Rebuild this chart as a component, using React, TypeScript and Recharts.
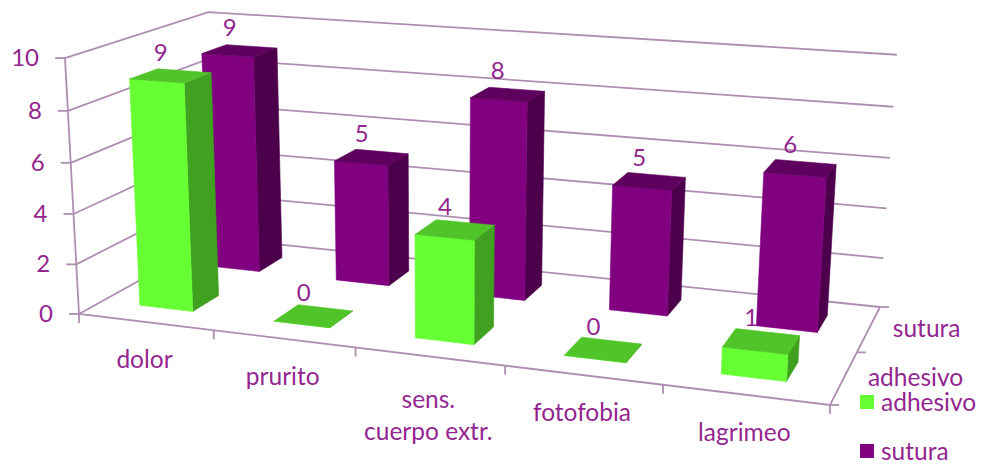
import React from 'react'
import { BarChart, Bar, XAxis, YAxis, CartesianGrid, Legend } from 'recharts'

const categories = ['dolor', 'prurito', 'sens.\ncuerpo extr.', 'fotofobia', 'lagrimeo']
const adhesivo = [9, 0, 4, 0, 1]
const sutura = [9, 5, 8, 5, 6]
const valueTicks = [0, 2, 4, 6, 8, 10]
const seriesNames = ['adhesivo', 'sutura']

const data = categories.map((name, i) => ({ name, adhesivo: adhesivo[i], sutura: sutura[i] }))

const WIDTH = 982
const HEIGHT = 464
// flat plot rectangle the scales work in, projected onto the 3D box afterwards
const PLOT = { left: 100, top: 50, width: 700, height: 300 }
const BAR_SIZE = 56

const TEXT = '#93278F'
const LINE = '#AE8FB2'
const FONT = 'Lato, sans-serif'
const FONT_SIZE = 24.5
const DIGIT_SIZE = 24

const GREEN = { front: '#66FF33', side: '#40A020', top: '#50C428' }
const PURPLE = { front: '#800080', side: '#4C004C', top: '#5F005F' }

// floor corners: front-left, front-right, back-right, back-left
const FLOOR = [[79, 314], [830, 405], [880, 307], [216, 238]]
const VANISH = [440, 6900]
const V_PERSP = -0.0374

const [[x0, y0], [x1, y1], [x2, y2], [x3, y3]] = FLOOR
const det = (x1 - x2) * (y3 - y2) - (x3 - x2) * (y1 - y2)
const sx = x0 - x1 + x2 - x3
const sy = y0 - y1 + y2 - y3
const g = (sx * (y3 - y2) - (x3 - x2) * sy) / det
const h = ((x1 - x2) * sy - sx * (y1 - y2)) / det

// u along the categories, d into the depth, v up the value axis, all 0..1
function project(u: number, d: number, v: number): [number, number] {
  const w = 1 + g * u + h * d + V_PERSP * v
  const X = (x1 - x0 + g * x1) * u + (x3 - x0 + h * x3) * d + x0 + VANISH[0] * V_PERSP * v
  const Y = (y1 - y0 + g * y1) * u + (y3 - y0 + h * y3) * d + y0 + VANISH[1] * V_PERSP * v
  return [X / w, Y / w]
}

const toU = (x: number) => (x - PLOT.left) / PLOT.width
const toV = (y: number) => (PLOT.top + PLOT.height - y) / PLOT.height

const poly = (pts: [number, number][]) => pts.map((p) => p.join(',')).join(' ')
const pathOf = (pts: [number, number][]) => 'M' + pts.map((p) => p.join(' ')).join('L')

// each row's place in the depth of the box, with its nudge along the categories
const ROW_ADHESIVO = { depth: [0.155, 0.345], shift: 2 }
const ROW_SUTURA = { depth: [0.655, 0.845], shift: 0.5 }
type Row = typeof ROW_ADHESIVO

function valueLabel(props: any, row: Row) {
  const u = toU(props.x + props.width / 2 - row.shift)
  const [px, py] = project(u, (row.depth[0] + row.depth[1]) / 2, toV(props.y))
  return (
    <text x={px - 10} y={py - 15} textAnchor="middle" fill={TEXT} fontFamily={FONT} fontSize={DIGIT_SIZE}>
      {props.value}
    </text>
  )
}

function Face({ pts, fill }: { pts: [number, number][]; fill: string }) {
  return <polygon points={poly(pts)} fill={fill} stroke={fill} strokeWidth={0.6} />
}

function Box3D({ bar, row, colors, label }: { bar: any; row: Row; colors: typeof GREEN; label?: boolean }) {
  const ua = toU(bar.x - row.shift)
  const ub = toU(bar.x + bar.width - row.shift)
  const vt = toV(bar.y)
  const [da, db] = row.depth
  return (
    <g>
      <Face pts={[project(ub, da, 0), project(ub, db, 0), project(ub, db, vt), project(ub, da, vt)]} fill={colors.side} />
      <Face pts={[project(ua, da, 0), project(ub, da, 0), project(ub, da, vt), project(ua, da, vt)]} fill={colors.front} />
      <Face pts={[project(ua, da, vt), project(ub, da, vt), project(ub, db, vt), project(ua, db, vt)]} fill={colors.top} />
      {label && valueLabel(bar, row)}
    </g>
  )
}

// wall lines follow the left wall, then the back wall
function WallLine(props: any) {
  const v = toV(props.y1)
  return (
    <path
      d={pathOf([project(0, 0, v), project(0, 1, v), project(1, 1, v)])}
      fill="none"
      stroke={LINE}
      strokeWidth={1.8}
    />
  )
}

function ValueTick({ y, payload }: any) {
  const [px, py] = project(0, 0, toV(y))
  return (
    <g>
      <line x1={px - 10} y1={py} x2={px} y2={py} stroke={LINE} strokeWidth={1.8} />
      <text x={px - 26} y={py + 8} textAnchor="end" fill={TEXT} fontFamily={FONT} fontSize={DIGIT_SIZE}>
        {payload.value}
      </text>
    </g>
  )
}

function CategoryTick({ x, payload }: any) {
  const [px, py] = project(toU(x), 0, 0)
  const lines = String(payload.value).split('\n')
  return (
    <g>
      {lines.map((line, i) => (
        <text
          key={line}
          x={px - 1}
          y={py + (lines.length > 1 ? 52 + i * 32 : 46)}
          textAnchor="middle"
          fill={TEXT}
          fontFamily={FONT}
          fontSize={FONT_SIZE}
        >
          {line}
        </text>
      ))}
    </g>
  )
}

function FloorAxes() {
  const bandEdges = categories.map((_, i) => i / categories.length).concat(1)
  const depthEdges = [0, 0.5, 1]
  return (
    <g stroke={LINE} strokeWidth={1.8} fill="none">
      <path d={pathOf([project(0, 0, 1), project(0, 0, 0), project(1, 0, 0), project(1, 1, 0)])} />
      {bandEdges.map((u) => {
        const [px, py] = project(u, 0, 0)
        return <line key={u} x1={px} y1={py} x2={px} y2={py + 9} />
      })}
      {depthEdges.map((d) => {
        const [px, py] = project(1, d, 0)
        return <line key={d} x1={px} y1={py} x2={px + 9} y2={py} />
      })}
    </g>
  )
}

function DepthLabels() {
  return (
    <g>
      {seriesNames.map((name, i) => {
        const [px, py] = project(1, 0.25 + i * 0.5, 0)
        return (
          <text key={name} x={px + 24} y={py + 8} fill={TEXT} fontFamily={FONT} fontSize={FONT_SIZE}>
            {name}
          </text>
        )
      })}
    </g>
  )
}

function LegendItems({ payload }: any) {
  const items = (payload || []).filter((item: any) => item.type !== 'none')
  return (
    <div>
      {items.map((item: any, i: number) => (
        <div
          key={item.value}
          style={{ display: 'flex', alignItems: 'center', height: 24, marginTop: i ? 25 : 0 }}
        >
          <span style={{ width: 14, height: 14, background: item.color, marginRight: 7 }} />
          <span style={{ display: 'block', color: TEXT, fontFamily: FONT, fontSize: FONT_SIZE, lineHeight: '24px' }}>
            {item.value}
          </span>
        </div>
      ))}
    </div>
  )
}

export default function App() {
  return (
    <div style={{ position: 'absolute', left: 0, top: 0, background: '#fff' }}>
      <BarChart
        width={WIDTH}
        height={HEIGHT}
        data={data}
        barSize={BAR_SIZE}
        barGap={-BAR_SIZE}
        margin={{
          left: PLOT.left - 1,
          top: PLOT.top,
          right: WIDTH - PLOT.left - PLOT.width,
          bottom: HEIGHT - PLOT.top - PLOT.height - 1,
        }}
      >
        <CartesianGrid vertical={false} horizontal={(p: any) => <WallLine key={p.index} {...p} />} />
        <FloorAxes />
        <DepthLabels />
        <XAxis dataKey="name" height={1} interval={0} axisLine={false} tickLine={false} tick={CategoryTick} />
        <YAxis width={1} domain={[0, 10]} ticks={valueTicks} interval={0} axisLine={false} tickLine={false} tick={ValueTick} />
        <Legend
          layout="vertical"
          align="center"
          verticalAlign="middle"
          wrapperStyle={{ left: 860, top: 390, width: 122 }}
          content={LegendItems}
        />
        {/* adhesivo labels go first so the back row can cover them */}
        <Bar
          dataKey="adhesivo"
          legendType="none"
          isAnimationActive={false}
          shape={(p: any) => valueLabel(p, ROW_ADHESIVO)}
        />
        <Bar
          dataKey="sutura"
          name="sutura"
          fill={PURPLE.front}
          isAnimationActive={false}
          shape={(p: any) => <Box3D bar={p} row={ROW_SUTURA} colors={PURPLE} label />}
        />
        <Bar
          dataKey="adhesivo"
          name="adhesivo"
          fill={GREEN.front}
          isAnimationActive={false}
          shape={(p: any) => <Box3D bar={p} row={ROW_ADHESIVO} colors={GREEN} />}
        />
      </BarChart>
    </div>
  )
}
